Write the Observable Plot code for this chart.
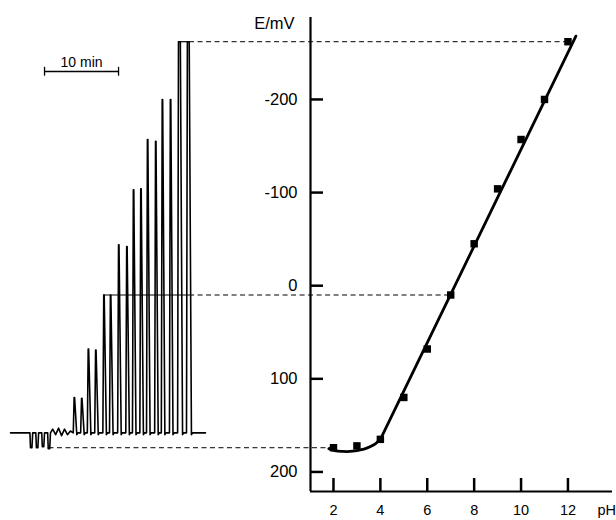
<!DOCTYPE html>
<html><head><meta charset="utf-8">
<script src="https://cdn.jsdelivr.net/npm/d3@7"></script>
<script src="https://cdn.jsdelivr.net/npm/@observablehq/plot@0.6"></script>
<style>html,body{margin:0;padding:0;background:#fff;} #chart{width:616px;height:520px;}</style>
</head><body><div id="chart"></div>
<script>
// Calibration points (pH, E / mV)
const calPH = [2, 3, 4, 5, 6, 7, 8, 9, 10, 11, 12];
const calE = [174, 172, 165, 120, 68, 10, -45, -104, -157, -200, -262];
// Fitted curve (curved low-pH part) and linear part
const fitCurvePH = [1.8, 2.1, 2.4, 2.7, 3.0, 3.3, 3.6, 3.8, 4.0];
const fitCurveE = [175, 177.5, 178, 178, 177, 175.5, 172.5, 169.5, 165];
const fitLinePH = [4.0, 12.34];
const fitLineE = [165, -268];
// Recorder trace (time in min, E in mV)
const baselineE = 158;
const traceStartT = 0, traceEndT = 26.35;
const dipTimes = [2.7, 3.5, 4.3, 5.1];
const dipE = [174, 174, 173, 175];
const wiggleTimes = [5.7, 6.1, 6.5, 6.9, 7.3, 7.7, 8.1];
const wiggleE = [154, 160, 153, 161, 154, 160, 156];
const peakTimes = [8.6, 9.6, 10.5, 11.5, 12.6, 13.5, 14.6, 15.7, 16.6, 17.6, 18.5, 19.6, 20.5, 21.6, 22.7, 23.9];
const peakE = [120, 121, 68, 69, 10, 10, -44, -42, -103, -104, -157, -155, -200, -200, -262, -262];
// Guide lines linking trace levels to calibration points
const guideE = [174, 10, -262];
const guidePH = [2, 7, 12];
const guideSolidStartT = [5.1, 12.6, 22.7];
const guideDashStartT = [5.2, 24.2, 24.2];
// Scale bar
const scaleBarStartT = 4.6, scaleBarMin = 10, scaleBarE = -230;
const yTicks = [-200, -100, 0, 100, 200];
const xTicks = [2, 4, 6, 8, 10, 12];

const W = 616, H = 520, mL = 310, mR = 4, mT = 17, mB = 29, tickLen = 13;
const xDomain = [1.02, 13.9], yDomain = [-288, 221];
const xTime = Plot.scale({x: {domain: [traceStartT, traceEndT], range: [10, 205]}});
const xPH = Plot.scale({x: {domain: xDomain, range: [mL, W - mR]}});
const yE = Plot.scale({y: {domain: yDomain, range: [mT, H - mB]}});
const toX = t => xPH.invert(xTime.apply(t));
const yTickEnd = xPH.invert(mL + tickLen);
const xTickEnd = yE.invert(H - mB - tickLen);

// Build trace
const events = [];
dipTimes.forEach((t, i) => events.push({t, v: dipE[i], kind: "dip"}));
wiggleTimes.forEach((t, i) => events.push({t, v: wiggleE[i], kind: "w"}));
peakTimes.forEach((t, i) => events.push({t, v: peakE[i], kind: "peak"}));
events.sort((a, b) => a.t - b.t);
const trace = [{t: traceStartT, E: baselineE}];
for (const e of events) {
  if (e.kind === "dip") {
    trace.push({t: e.t - 0.08, E: baselineE}, {t: e.t, E: e.v}, {t: e.t + 0.2, E: e.v}, {t: e.t + 0.3, E: baselineE});
  } else if (e.kind === "peak") {
    const top = e.v < -250 ? 0.25 : 0.06;
    trace.push({t: e.t - 0.12, E: baselineE}, {t: e.t, E: e.v}, {t: e.t + top, E: e.v}, {t: e.t + top + 0.3, E: baselineE + 2}, {t: e.t + top + 0.45, E: baselineE});
  } else {
    trace.push({t: e.t, E: e.v});
  }
}
trace.push({t: traceEndT, E: baselineE});
trace.forEach(d => d.x = toX(d.t));

const cal = calPH.map((p, i) => ({pH: p, E: calE[i]}));
const fitCurve = fitCurvePH.map((p, i) => ({pH: p, E: fitCurveE[i]}));
const fitLine = fitLinePH.map((p, i) => ({pH: p, E: fitLineE[i]}));
const guidesSolid = guideE.map((e, i) => ({E: e, x1: toX(guideSolidStartT[i]), x2: toX(guideDashStartT[i])}));
const guidesDash = guideE.map((e, i) => ({E: e, x1: toX(guideDashStartT[i]), x2: guidePH[i]}));

const plot = Plot.plot({
  width: W, height: H,
  marginLeft: mL, marginRight: mR, marginTop: mT, marginBottom: mB,
  style: {fontFamily: "Arial, 'Liberation Sans', sans-serif", fontSize: "16px", background: "#fff"},
  x: {domain: xDomain, axis: null},
  y: {domain: yDomain, reverse: true, axis: null},
  marks: [
    Plot.ruleY(guidesSolid, {y: "E", x1: "x1", x2: "x2", stroke: "#000", strokeWidth: 1.2}),
    Plot.ruleY(guidesDash, {y: "E", x1: "x1", x2: "x2", stroke: "#000", strokeWidth: 1, strokeDasharray: "5,3.5"}),
    Plot.line(trace, {x: "x", y: "E", stroke: "#000", strokeWidth: 1.6}),
    // scale bar
    Plot.ruleY([scaleBarE], {x1: toX(scaleBarStartT), x2: toX(scaleBarStartT + scaleBarMin), stroke: "#000", strokeWidth: 1.3}),
    Plot.ruleX([toX(scaleBarStartT), toX(scaleBarStartT + scaleBarMin)], {y1: scaleBarE - 4.5, y2: scaleBarE + 5, stroke: "#000", strokeWidth: 1.3}),
    Plot.text(["10 min"], {x: toX(scaleBarStartT + scaleBarMin / 2), y: scaleBarE, dy: -5, lineAnchor: "bottom", fontSize: 14, fill: "#000"}),
    // axes
    Plot.ruleX([xDomain[0]], {stroke: "#000", strokeWidth: 2.2}),
    Plot.ruleY([yDomain[1]], {stroke: "#000", strokeWidth: 2.2}),
    Plot.ruleY(yTicks, {y: d => d, x1: xDomain[0], x2: yTickEnd, stroke: "#000", strokeWidth: 2.5}),
    Plot.ruleX(xTicks, {x: d => d, y1: yDomain[1], y2: xTickEnd, stroke: "#000", strokeWidth: 2.5}),
    Plot.axisY({ticks: yTicks, tickSize: 0, tickPadding: 13, label: null, fontSize: 16.5, fill: "#000", tickFormat: d => String(d)}),
    Plot.axisX({ticks: xTicks, tickSize: 0, tickPadding: 13, label: null, fontSize: 14.5, fill: "#000"}),
    Plot.text(["E/mV"], {frameAnchor: "top-left", dx: -16, dy: 0, textAnchor: "end", lineAnchor: "top", fontSize: 16.5, fill: "#000"}),
    Plot.text(["pH"], {frameAnchor: "bottom-right", dx: -15, dy: 13, textAnchor: "start", lineAnchor: "top", fontSize: 14.5, fill: "#000"}),
    // fit and points
    Plot.line(fitCurve, {x: "pH", y: "E", curve: "catmull-rom", stroke: "#000", strokeWidth: 2.8}),
    Plot.line(fitLine, {x: "pH", y: "E", stroke: "#000", strokeWidth: 2.8}),
    Plot.dot(cal, {x: "pH", y: "E", symbol: "square", r: 4.2, fill: "#000", stroke: "none"})
  ]
});
document.getElementById("chart").appendChild(plot);
</script>
</body></html>
